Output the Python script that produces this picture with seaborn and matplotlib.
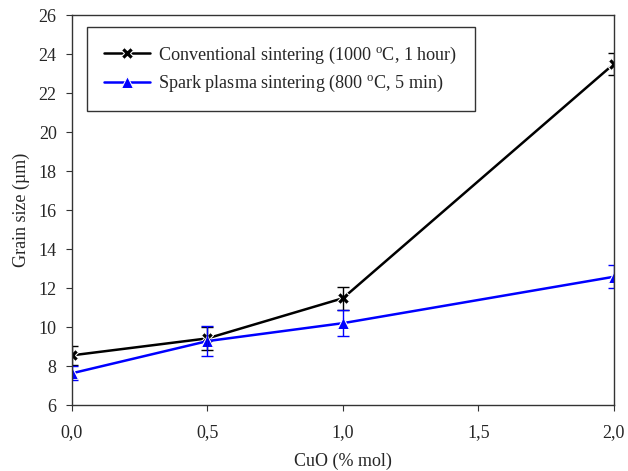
import matplotlib
matplotlib.use("Agg")
import matplotlib.pyplot as plt
import seaborn as sns
import pandas as pd
import numpy as np

cuo = [0.0, 0.5, 1.0, 2.0]
conv = [8.55, 9.42, 11.48, 23.5]
conv_err = [0.5, 0.6, 0.6, 0.55]
sps = [7.63, 9.28, 10.2, 12.58]
sps_err = [0.35, 0.75, 0.65, 0.6]
labels = ["Conventional sintering (1000 $^{\\mathrm{o}}$C, 1 hour)",
          "Spark plasma sintering (800 $^{\\mathrm{o}}$C, 5 min)"]
xticks = [0.0, 0.5, 1.0, 1.5, 2.0]
xticklabels = ["0,0", "0,5", "1,0", "1,5", "2,0"]
yticks = list(range(6, 27, 2))

sns.set_style("ticks")
plt.rcParams['font.family'] = ['Liberation Serif', 'DejaVu Serif']
plt.rcParams['mathtext.fontset'] = 'custom'
plt.rcParams['mathtext.rm'] = 'Liberation Serif'

fs = 13.1
fig = plt.figure(figsize=(6.28, 4.71), dpi=100)
ax = fig.add_axes([0.1146, 0.140, 0.863, 0.828])

df = pd.DataFrame({"x": cuo * 2, "y": conv + sps,
                   "series": [labels[0]] * 4 + [labels[1]] * 4})
colors = {labels[0]: "black", labels[1]: "blue"}
sns.lineplot(data=df, x="x", y="y", hue="series", style="series",
             markers={labels[0]: "X", labels[1]: "^"}, dashes=False,
             palette=colors, linewidth=1.8, markersize=8, ax=ax)
ax.errorbar(cuo, conv, yerr=conv_err, fmt="none", ecolor="black",
            elinewidth=1, capsize=4, capthick=1)
ax.errorbar(cuo, sps, yerr=sps_err, fmt="none", ecolor="blue",
            elinewidth=1, capsize=4, capthick=1)

ax.set_xlim(0, 2.0)
ax.set_ylim(6, 26)
ax.set_xticks(xticks)
ax.set_xticklabels(xticklabels)
ax.set_yticks(yticks)
ax.tick_params(labelsize=13, length=4, color="#333333")
ax.tick_params(axis="x", pad=10)
ax.tick_params(axis="y", pad=7)
for s in ax.spines.values():
    s.set_color("#333333")
    s.set_linewidth(1)
ax.set_xlabel("CuO (% mol)", fontsize=13, labelpad=8)
ax.set_ylabel("Grain size (µm)", fontsize=13, labelpad=6)

leg = ax.legend(loc="upper left", bbox_to_anchor=(0.028, 0.969), fontsize=fs,
                frameon=True, fancybox=False, edgecolor="#333333",
                framealpha=1, handlelength=2.5, handletextpad=0.45,
                borderpad=0.95, labelspacing=0.4, borderaxespad=0)
leg.get_frame().set_linewidth(1)

fig.savefig("out.png", dpi=100)
